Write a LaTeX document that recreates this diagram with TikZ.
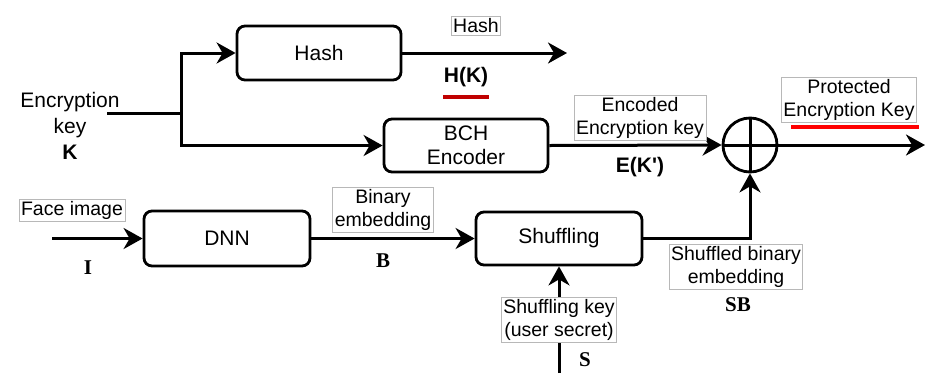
\documentclass[tikz,border=0pt]{standalone}
\usepackage{fontspec}
\setmainfont{Liberation Sans}
\newfontfamily\serifbold{Liberation Serif}
\usepackage{tikz}
\usetikzlibrary{arrows.meta,positioning,calc}
\definecolor{KeyRed}{HTML}{C00000}
\definecolor{KeyBright}{HTML}{FF0000}
\definecolor{TagGray}{HTML}{B8B8B8}

\tikzset{
  block/.style={draw, line width=2.8pt, rounded corners=8pt, align=center,
    font=\fontsize{21}{24}\selectfont},
  tag/.style={draw=TagGray, line width=0.8pt, fill=white, inner sep=2pt,
    align=center, font=\fontsize{19.5}{23}\selectfont},
  sym/.style={font=\fontsize{21}{24}\selectfont\bfseries},
  symserif/.style={font=\fontsize{21}{24}\selectfont\serifbold\bfseries},
  wire/.style={line width=3pt},
  flow/.style={line width=3pt, -{Stealth[length=19pt,width=21pt,inset=6pt]}},
}

\begin{document}
\begin{tikzpicture}[x=1pt, y=-1pt]
\useasboundingbox (0,0) rectangle (940,373);

% Blocks
\node[block, minimum width=164pt, minimum height=54pt] (hash) at (319,53) {Hash};
\node[block, minimum width=164pt, minimum height=53pt] (bch) at (466,145.5) {BCH\\Encoder};
\node[block, minimum width=166pt, minimum height=55pt] (dnn) at (227,238.5) {DNN};
\node[block, minimum width=166pt, minimum height=53pt] (shuf) at (559,238.5) {Shuffling};
\node[draw, circle, line width=2.8pt, minimum size=54pt, inner sep=0pt] (xor) at (750,145) {};
\draw[wire] (xor.north) -- (xor.south) (xor.west) -- (xor.east);

% Free ends
\coordinate (kin) at (107,113);
\coordinate (split) at (181,113);
\coordinate (hashout) at (567,53);
\coordinate (pout) at (925,145);
\coordinate (facein) at (52,238.5);
\coordinate (skin) at (559,373);

% Connectors
\draw[wire] (kin) -- (split);
\draw[flow] (split) |- (hash.west);
\draw[flow] (split) |- (bch.west);
\draw[flow] (hash.east) -- (hashout);
\draw[flow] (bch.east) -- (xor.west);
\draw[flow] (xor.east) -- (pout);
\draw[flow] (facein) -- (dnn.west);
\draw[flow] (dnn.east) -- (shuf.west);
\draw[flow] (shuf.east) -| (xor.south);
\draw[flow] (skin) -- (shuf.south);

% Input text
\node[align=center, font=\fontsize{21}{26}\selectfont] (ekey) at (70,126) {Encryption\\key\\\textbf{K}};

% Tags
\node[tag] (hashtag) at (476,26) {Hash};
\node[tag] (enctag) at (640,118) {Encoded\\Encryption key};
\node[tag] (prottag) at (849,100) {Protected\\Encryption Key};
\node[tag] (facetag) at (72,210) {Face image};
\node[tag] (bintag) at (383,210) {Binary\\embedding};
\node[tag] (sbtag) at (736,267) {Shuffled binary\\embedding};
\node[tag] (skeytag) at (559,320) {Shuffling key\\(user secret)};

% Symbols
\node[sym] (hk) at (466,77) {H(K)};
\node[sym] (ekk) at (640,167) {E(K\textquotesingle)};
\node[symserif] (isym) at (88,268) {I};
\node[symserif] (bsym) at (383,261) {B};
\node[symserif] (sbsym) at (738,305) {SB};
\node[symserif] (ssym) at (585,360) {S};

% Red underlines
\draw[KeyRed, line width=4pt] (443,97) -- (489,97);
\draw[KeyBright, line width=4pt] (791,127) -- (919,127);
\end{tikzpicture}
\end{document}
